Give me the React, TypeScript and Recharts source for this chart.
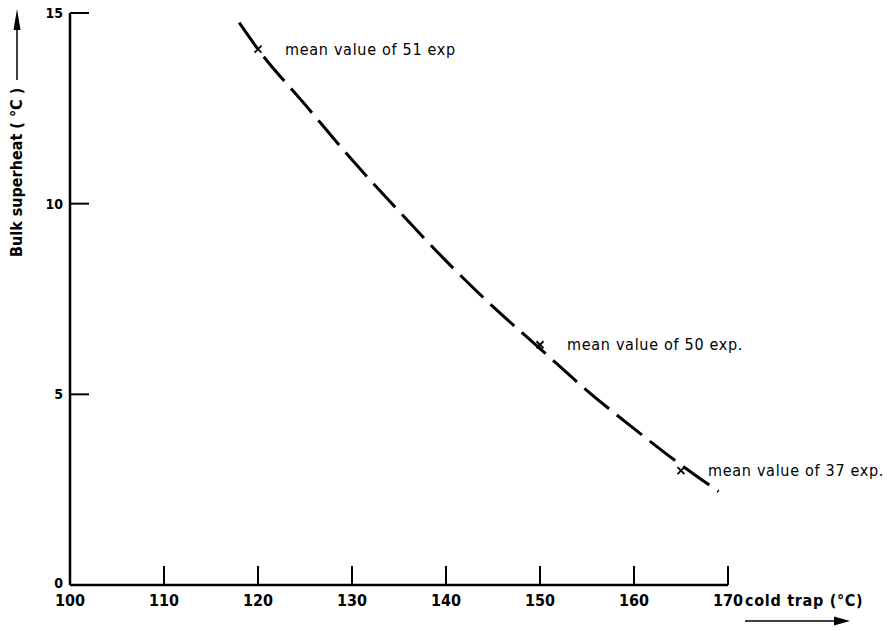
import React from 'react';
import { ComposedChart, Line, Scatter, XAxis, YAxis } from 'recharts';

// cold trap temperature (°C) vs bulk superheat (°C), fitted curve
const curveTemp = [118, 120, 125, 130, 135, 140, 145, 150, 155, 160, 165, 169];
const curveSuperheat = [14.75, 14.05, 12.6, 11.15, 9.8, 8.5, 7.3, 6.2, 5.1, 4.1, 3.15, 2.45];

// measured means
const meanTemp = [120, 150, 165];
const meanSuperheat = [14.05, 6.3, 3.0];
const meanLabels = ['mean value of 51 exp', 'mean value of 50 exp.', 'mean value of 37 exp.'];

const xTicks = [100, 110, 120, 130, 140, 150, 160, 170];
const yTicks = [0, 5, 10, 15];

const curveData = curveTemp.map((x, i) => ({ x, y: curveSuperheat[i] }));
const meanData = meanTemp.map((x, i) => ({ x, y: meanSuperheat[i], label: meanLabels[i] }));

const FONT = '"DejaVu Sans Condensed", "Liberation Sans Narrow", "DejaVu Sans", sans-serif';

const XTick = (props: any) => {
    const { x, y, payload } = props;
    return (
        <g>
            {payload.value !== 100 && (
                <line x1={x} y1={y} x2={x} y2={y - 19} stroke="#000" strokeWidth={2} />
            )}
            <text x={x} y={y + 21} textAnchor="middle" fontFamily={FONT} fontWeight="bold" fontSize={16} fill="#000">
                {payload.value}
            </text>
        </g>
    );
};

const YTick = (props: any) => {
    const { x, y, payload } = props;
    return (
        <g>
            {payload.value !== 0 && (
                <line x1={x} y1={y} x2={x + 19} y2={y} stroke="#000" strokeWidth={2} />
            )}
            <text
                x={x - 7}
                y={payload.value === 0 ? y - 2 : y}
                dy="0.36em"
                textAnchor="end"
                fontFamily={FONT}
                fontWeight="bold"
                fontSize={14}
                fill="#000"
            >
                {payload.value}
            </text>
        </g>
    );
};

const MeanMark = (props: any) => {
    const { cx, cy, payload } = props;
    return (
        <g>
            <line x1={cx - 3.5} y1={cy - 3.5} x2={cx + 3.5} y2={cy + 3.5} stroke="#000" strokeWidth={1.8} />
            <line x1={cx - 3.5} y1={cy + 3.5} x2={cx + 3.5} y2={cy - 3.5} stroke="#000" strokeWidth={1.8} />
            <text x={cx + 27} y={cy} dy="0.34em" fontFamily={FONT} fontSize={16} letterSpacing={0.7} fill="#000">
                {payload.label}
            </text>
        </g>
    );
};

export default function App() {
    return (
        <div style={{ position: 'absolute', left: 0, top: 0, width: 887, height: 631, background: '#fff' }}>
            <ComposedChart width={887} height={631} margin={{ top: 13, right: 159, left: 0, bottom: 0 }}>
                <XAxis
                    dataKey="x"
                    type="number"
                    domain={[100, 170]}
                    ticks={xTicks}
                    height={46}
                    tickSize={0}
                    tickMargin={0}
                    tickLine={false}
                    axisLine={{ stroke: '#000', strokeWidth: 2.5 }}
                    tick={<XTick />}
                    interval={0}
                />
                <YAxis
                    dataKey="y"
                    type="number"
                    domain={[0, 15]}
                    ticks={yTicks}
                    width={70}
                    tickSize={0}
                    tickMargin={0}
                    tickLine={false}
                    axisLine={{ stroke: '#000', strokeWidth: 2.5 }}
                    tick={<YTick />}
                    interval={0}
                />
                <Line
                    data={curveData}
                    dataKey="y"
                    type="monotone"
                    stroke="#000"
                    strokeWidth={3}
                    strokeDasharray="32 10"
                    dot={false}
                    activeDot={false}
                    isAnimationActive={false}
                />
                <Scatter data={meanData} dataKey="y" shape={<MeanMark />} isAnimationActive={false} />
            </ComposedChart>

            {/* axis titles with their arrows */}
            <svg width={887} height={631} style={{ position: 'absolute', left: 0, top: 0, pointerEvents: 'none' }}>
                <text
                    x={22}
                    y={257}
                    transform="rotate(-90 22 257)"
                    fontFamily={FONT}
                    fontWeight="bold"
                    fontSize={16}
                    fill="#000"
                >
                    Bulk superheat ( °C )
                </text>
                <line x1={17} y1={80} x2={17} y2={26} stroke="#000" strokeWidth={1.5} />
                <polygon points="17,9 13.5,30 20.5,30" fill="#000" />

                <text x={745} y={606} fontFamily={FONT} fontWeight="bold" fontSize={16} letterSpacing={0.7} fill="#000">
                    cold trap (°C)
                </text>
                <line x1={745} y1={621} x2={836} y2={621} stroke="#000" strokeWidth={1.5} />
                <polygon points="834,616.5 850,621 834,625.5" fill="#000" />
            </svg>
        </div>
    );
}
